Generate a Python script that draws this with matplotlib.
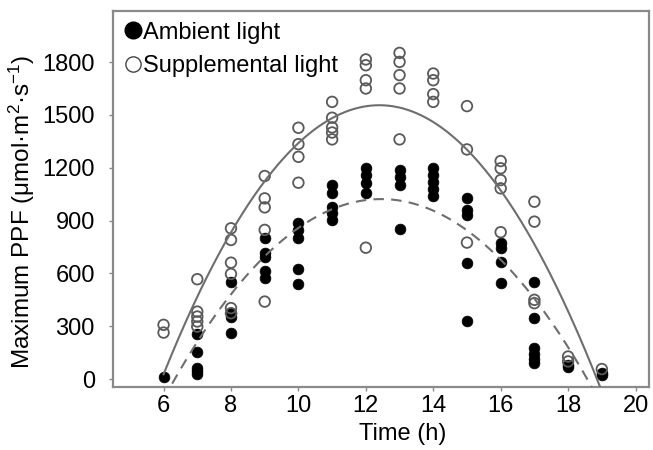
import numpy as np
import matplotlib
matplotlib.use("Agg")
import matplotlib.pyplot as plt
from matplotlib.lines import Line2D

plt.rcParams['font.family'] = ['Liberation Sans', 'DejaVu Sans']
plt.rcParams['mathtext.default'] = 'regular'

# ---- data ----
amb_hours = [6,
             7, 7, 7, 7, 7,
             8, 8, 8, 8,
             9, 9, 9, 9, 9,
             10, 10, 10, 10, 10,
             11, 11, 11, 11, 11,
             12, 12, 12, 12,
             13, 13, 13, 13,
             14, 14, 14, 14, 14,
             15, 15, 15, 15, 15,
             16, 16, 16, 16,
             17, 17, 17, 17, 17, 17,
             18, 18,
             19, 19]
amb_values = [10,
              255, 153, 62, 45, 30,
              554, 375, 355, 260,
              800, 715, 695, 616, 573,
              888, 847, 800, 624, 539,
              1102, 1055, 979, 941, 903,
              1197, 1159, 1112, 1058,
              1187, 1149, 1102, 851,
              1197, 1159, 1117, 1079, 1041,
              1026, 960, 932, 661, 332,
              771, 743, 667, 544,
              554, 346, 176, 143, 113, 94,
              80, 68,
              35, 24]

sup_hours = [6, 6,
             7, 7, 7, 7, 7,
             8, 8, 8, 8, 8, 8,
             9, 9, 9, 9, 9,
             10, 10, 10, 10,
             11, 11, 11, 11, 11,
             12, 12, 12, 12, 12,
             13, 13, 13, 13, 13,
             14, 14, 14, 14,
             15, 15, 15,
             16, 16, 16, 16, 16,
             17, 17, 17, 17,
             18, 18,
             19]
sup_values = [308, 264,
              567, 383, 355, 327, 298,
              856, 790, 661, 597, 403, 374,
              1153, 1026, 975, 847, 440,
              1427, 1334, 1262, 1115,
              1574, 1484, 1429, 1400, 1361,
              1815, 1782, 1697, 1650, 746,
              1852, 1801, 1726, 1650, 1361,
              1735, 1697, 1618, 1574,
              1550, 1304, 775,
              1238, 1197, 1130, 1083, 834,
              1007, 894, 450, 431,
              128, 100,
              57]

# quadratic fit curves: peak hour, peak value, curvature
sup_fit = (12.4, 1555, -37.3)
amb_fit = (12.45, 1022, -27.3)

x_ticks = [6, 8, 10, 12, 14, 16, 18, 20]
y_ticks = [0, 300, 600, 900, 1200, 1500, 1800]

labels = ['Ambient light', 'Supplemental light']

# ---- figure ----
fig = plt.figure(figsize=(6.53, 4.5), dpi=100)
ax = fig.add_axes([113/653, 1-387/450, (649-113)/653, (387-11)/450])

gray = '#6e6e6e'
ax.scatter(amb_hours, amb_values, s=60, facecolor='black', edgecolor='black',
           linewidth=0.5, zorder=3)
ax.scatter(sup_hours, sup_values, s=58, facecolor='none', edgecolor='#5a5a5a',
           linewidth=1.3, zorder=3)

xs = np.linspace(6, 19.2, 300)
h, k, a = sup_fit
ax.plot(xs, a*(xs-h)**2 + k, color=gray, lw=1.5, zorder=4)
h, k, a = amb_fit
ax.plot(xs, a*(xs-h)**2 + k, color=gray, lw=1.5, ls=(0, (5, 3.5)), zorder=4)

ax.set_xlim(4.5, 20.4)
ax.set_ylim(-45, 2090)
ax.set_xticks(x_ticks)
ax.set_yticks(y_ticks)

for sp in ax.spines.values():
    sp.set_color('#8a8a8a')
    sp.set_linewidth(1.6)

ax.tick_params(axis='both', direction='out', length=3, width=1, color='#8a8a8a',
               labelsize=17)
ax.tick_params(axis='y', pad=10)
ax.tick_params(axis='x', pad=2.5)

ax.set_xlabel('Time (h)', fontsize=17)
ax.xaxis.set_label_coords(0.54, -0.095)
ax.set_ylabel('Maximum PPF (μmol·m$^{2}$·s$^{-1}$)', fontsize=17.5)
ax.yaxis.set_label_coords(-0.142, 0.465)

handles = [Line2D([], [], ls='none', marker='o', markersize=12, markerfacecolor='black',
                  markeredgecolor='black'),
           Line2D([], [], ls='none', marker='o', markersize=11, markerfacecolor='none',
                  markeredgecolor='#444444', markeredgewidth=1.0)]
ax.legend(handles, labels, loc='upper left', bbox_to_anchor=(0.022, 0.972),
          frameon=False, fontsize=17, handlelength=0.7, handletextpad=0.05,
          borderpad=0, borderaxespad=0, labelspacing=0.5)

fig.savefig('out.png', dpi=100)
